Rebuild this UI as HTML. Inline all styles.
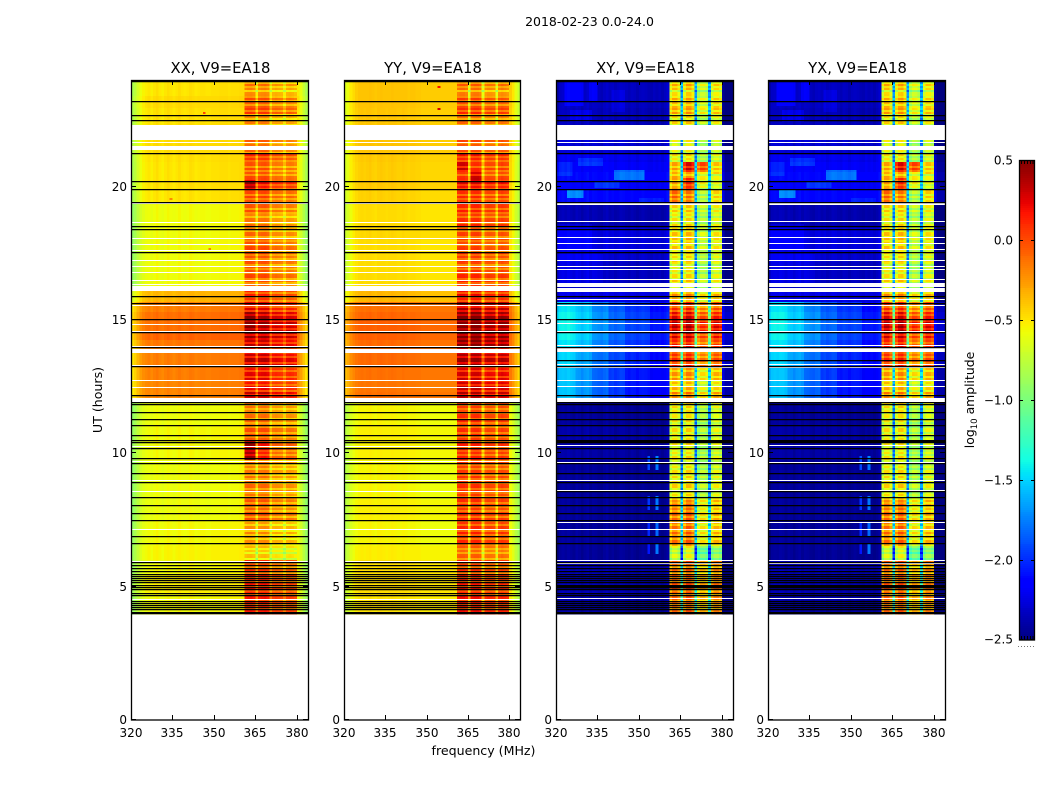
<!DOCTYPE html>
<html>
<head>
<meta charset="utf-8">
<title>2018-02-23 0.0-24.0</title>
<style>
html,body{margin:0;padding:0;background:#fff;}
svg{display:block;font-family:"DejaVu Sans","Liberation Sans",sans-serif;}
</style>
</head>
<body>
<svg id="figure" xmlns="http://www.w3.org/2000/svg" width="1050" height="800" viewBox="0 0 1050 800">
  <rect x="0" y="0" width="1050" height="800" fill="#fff"/>
  <text x="589.5" y="26" font-size="12.5" text-anchor="middle" fill="#000">2018-02-23 0.0-24.0</text>
  <text x="0" y="0" transform="translate(102 400) rotate(-90)" font-size="12.6" text-anchor="middle" fill="#000">UT (hours)</text>
  <text x="483.5" y="755" font-size="12.6" text-anchor="middle" fill="#000">frequency (MHz)</text>
  <text x="0" y="0" transform="translate(974 400) rotate(-90)" font-size="12.4" text-anchor="middle" fill="#000">log<tspan font-size="8.6" dy="3">10</tspan><tspan dy="-3"> amplitude</tspan></text>
</svg>
<script>
// ---------- chart data ----------
const panelTitles = ['XX, V9=EA18', 'YY, V9=EA18', 'XY, V9=EA18', 'YX, V9=EA18'];
const xTickValues = [320, 335, 350, 365, 380];
const yTickValues = [0, 5, 10, 15, 20];
const colorbarTicks = [0.5, 0.0, -0.5, -1.0, -1.5, -2.0, -2.5];
const colorbarLabels = ['0.5', '0.0', '\u22120.5', '\u22121.0', '\u22121.5', '\u22122.0', '\u22122.5'];

// Time band edges in UT hours (descending)
const bandEdges = [24, 23.625, 23.4, 22.95, 22.725, 22.31, 21.75, 21.26, 20.93, 20.55, 20.25, 19.84, 19.39, 18.94, 18.56, 18.0, 17.55, 17.18, 16.88, 16.5, 16.13, 15.64, 15.3, 15.0, 14.55, 14.25, 13.95, 13.76, 13.31, 12.75, 12.3, 12.0, 11.55, 11.06, 10.5, 9.75, 9.0, 8.25, 7.5, 6.56, 6.0, 5.44, 4.69, 4.0];

// log10 amplitude level per band: off-RFI channels ("Low") and RFI block channels ("High")
const levelLowXX = [-.53, -.53, -.5, -.52, -.52, -.5, -.5, -.52, -.53, -.53, -.52, -.53, -.61, -.61, -.61, -.61, -.61, -.61, -.61, -.61, -.38, -.2, -.15, -.15, -.12, -.18, -.2, -.2, -.2, -.22, -.22, -.62, -.62, -.6, -.6, -.62, -.62, -.62, -.6, -.58, -.6, -.56, -.6];
const levelHighXX = [-.24, -.32, -.14, -.07, -.27, -.22, -.2, 0, -.14, -.1, .1, -.1, -.15, -.25, -.2, -.1, -.1, -.15, -.1, -.15, .0, .12, .3, .35, .3, .25, .25, .25, .12, .1, .2, -.25, -.22, -.12, -.05, -.25, -.2, -.15, -.32, -.48, -.05, .05, .05];
const levelLowYY = [-.42, -.42, -.42, -.43, -.43, -.42, -.42, -.44, -.45, -.45, -.44, -.46, -.5, -.5, -.48, -.5, -.5, -.5, -.5, -.5, -.38, -.15, -.12, -.1, -.1, -.13, -.13, -.13, -.15, -.17, -.15, -.58, -.58, -.56, -.56, -.58, -.58, -.56, -.58, -.55, -.5, -.5, -.52];
const levelHighYY = [-.2, -.3, -.12, -.05, -.22, -.15, -.15, .02, -.05, -.05, .1, -.05, -.02, -.05, -.1, -.1, -.05, -.12, -.02, -.03, .05, .25, .38, .42, .38, .4, .3, .3, .15, .2, .22, -.1, -.05, -.05, 0, -.08, -.05, -.05, -.02, -.2, -.05, .02, .05];
const levelLowCross = [-2.34, -2.34, -2.34, -2.36, -2.36, -2.3, -2.3, -2.22, -2.18, -2.13, -2.18, -2.13, -2.38, -2.38, -2.26, -2.26, -2.3, -2.34, -2.34, -2.34, -2.25, -2.1, -2.05, -2.05, -2.05, -2.1, -2.1, -2.1, -2.15, -2.15, -2.15, -2.45, -2.45, -2.42, -2.42, -2.45, -2.45, -2.45, -2.45, -2.45, -2.38, -2.38, -2.42];
const levelHighCross = [-.45, -.6, -.45, -.4, -.55, -.7, -.7, -.6, -.4, -.4, -.4, -.45, -.55, -.6, -.5, -.5, -.55, -.65, -.6, -.55, -.35, -.05, .15, .3, .15, .05, 0, 0, -.35, -.45, -.3, -.6, -.65, -.6, -.6, -.6, -.55, -.35, -.35, -.85, -.2, -.15, -.2];

// Per-channel (320..383 MHz) spectral shape relative to the band level
const spectrumXX = [-.3, -.24, -.15, -.07, -.02, .01, .03, .0, .03, .05, .02, 0, .03, .05, .03, .01, .03, .05, .03, .02, .03, .05, .04, .02, .03, .04, .04, .03, .03, .04, .04, .04, .05, .05, .05, .04, .05, .05, .05, .06, .06, 0, .02, .03, 0, -.3, 0, .02, .03, 0, -.3, -.12, -.1, -.12, -.14, -.3, -.12, -.1, -.12, -.16, .02, -.08, -.2, -.3];
const spectrumYY = [-.22, -.17, -.09, -.04, 0, .02, .03, .02, .03, .04, .02, .01, .03, .04, .03, .02, .03, .04, .03, .02, .02, .03, .02, .01, .02, .02, .01, .01, .0, .0, .0, .0, .0, .0, .0, .0, .0, .0, .0, .0, .0, .02, .05, .05, .02, -.4, .03, .05, .05, .02, -.4, -.06, -.03, -.04, -.06, -.4, -.03, 0, -.03, -.06, .0, -.08, -.2, -.3];
const spectrumXY = [-.05, .02, .04, .02, .05, .02, .0, .04, .02, -.02, .02, .05, 0, .03, .02, 0, -.02, .02, .04, 0, .02, -.02, 0, .03, .02, 0, -.02, .02, 0, -.03, 0, .02, 0, -.02, -.03, 0, -.02, 0, -.03, 0, .05, -.15, .05, .05, -.1, -1.15, -.1, .1, .1, -.05, -1.15, -.35, -.2, -.2, -.3, -1.15, -.2, -.05, -.05, -.15, -.1, -.25, -.25, -.25];
const spectrumYX = [-.05, .02, .03, .02, .04, .03, 0, .03, .02, -.02, .02, .04, 0, .03, .02, 0, -.02, .02, .03, 0, .02, -.02, 0, .03, .02, 0, -.02, .02, 0, -.03, 0, .02, 0, -.02, -.03, 0, -.02, 0, -.03, 0, .05, -.17, .05, .05, -.12, -1.15, -.1, .08, .1, -.05, -1.15, -.33, -.18, -.2, -.3, -1.15, -.2, -.04, -.05, -.15, -.1, -.25, -.25, -.25];

// Horizontal fine banding seen inside the RFI blocks
const rowRipple = [.11, -.12, .13, -.09, .06, -.14, .1];

// Localised features: [ut top, ut bottom, first channel, last channel, delta]
const patchesXX = [[10.5, 9.75, 41, 44, .38], [10.5, 9.75, 46, 49, .12], [20.25, 19.84, 41, 44, .22], [15.3, 14.55, 41, 44, .08], [22.8, 22.72, 26, 26, .5], [19.55, 19.47, 14, 14, .3], [17.7, 17.62, 28, 28, .4]];
const patchesYY = [[20.6, 20.2, 46, 49, .22], [20.9, 20.55, 41, 44, .2], [15.3, 13.9, 46, 49, .05], [23.75, 23.67, 34, 34, .6], [22.95, 22.87, 34, 34, .7]];
const patchesCross = [
  [15.64, 13.95, 0, 6, .62], [15.64, 13.95, 7, 12, .52], [15.64, 13.95, 13, 18, .35], [15.64, 13.95, 19, 24, .22], [15.64, 13.95, 25, 33, .12],
  [13.95, 12.0, 0, 6, .58], [13.95, 12.0, 7, 12, .45], [13.95, 12.0, 13, 18, .3], [13.95, 12.0, 19, 24, .18], [13.95, 12.0, 25, 33, .08],
  [23.9, 23.0, 3, 9, .18], [23.9, 23.2, 12, 14, .14], [22.9, 22.4, 5, 12, .12], [23.6, 22.8, 20, 24, .08],
  [20.6, 20.25, 21, 31, .35], [21.1, 20.8, 8, 16, .2], [19.85, 19.57, 4, 9, .4], [20.2, 19.95, 14, 22, .2], [20.9, 20.4, 0, 5, .12], [19.6, 19.4, 30, 38, .1],
  [18.6, 17.6, 0, 12, .1], [17.5, 16.3, 0, 16, .08],
  [20.95, 20.55, 46, 49, .5], [20.95, 20.55, 51, 54, .55], [20.3, 19.9, 46, 49, .35], [19.95, 19.45, 41, 44, .25], [19.95, 19.45, 46, 49, .15], [19.95, 19.45, 51, 54, -.15], [20.5, 19.9, 56, 59, -.2],
  [9.9, 9.4, 33, 33, .55], [8.4, 7.9, 33, 33, .5], [7.4, 6.9, 33, 33, .45], [6.6, 6.2, 33, 33, .4],
  [9.9, 9.4, 36, 36, .7], [8.4, 7.9, 36, 36, .7], [7.4, 6.9, 36, 36, .65], [6.6, 6.2, 36, 36, .7],
  [8.2, 6.0, 41, 44, .12], [8.2, 6.0, 46, 49, .14]
];

// Black lines, in UT hours
const blackRows = [23.94, 23.19, 22.66, 22.49, 21.25, 20.2, 19.9, 19.4, 18.5, 18.4, 17.54, 15.87, 15.63, 15.01, 14.54, 13.96, 13.25, 12.16, 11.91, 11.84, 11.52, 11.28, 11.05, 10.68, 10.47, 10.41, 10.19, 9.8, 9.63, 9.25, 8.91, 8.34, 8.05, 7.75, 7.47, 6.87, 6.63, 5.9, 5.79, 5.67, 5.56, 5.45, 5.37, 5.3, 5.22, 5.15, 5.04, 4.96, 4.89, 4.74, 4.66, 4.44, 4.36, 4.29, 4.21, 4.14, 4.03, 4.0];
const blackRowsCrossExtra = [5.0, 4.98, 8.57, 10.44, 13.46];

// White (flagged) rows, in UT hours
const whiteRowsAuto = [21.66, 19.37, 18.69, 18.09, 17.86, 17.64, 17.24, 17.01, 16.79, 16.49, 16.35, 15.55, 14.85, 14.6, 14.04, 13.31, 12.74, 12.5, 10.29, 9.71, 8.99, 8.6, 7.15, 5.97, 4.55];
const whiteRowsCross = [21.66, 19.35, 18.7, 18.1, 17.87, 17.65, 17.24, 17.01, 16.9, 16.53, 15.78, 15.55, 14.88, 14.6, 14.05, 13.34, 13.23, 12.74, 12.51, 10.3, 9.66, 8.99, 8.61, 7.41, 7.15, 5.99, 5.87, 4.56, 4.37];
// Thick flagged blocks: [ut top, ut bottom]
const whiteBlocksAuto = [[22.31, 21.75], [21.52, 21.38], [16.28, 16.09], [13.9, 13.76], [12.09, 11.94]];
const whiteBlocksCross = [[22.31, 21.75], [21.52, 21.38], [16.39, 16.24], [16.2, 16.05], [19.42, 19.3], [13.95, 13.8], [12.08, 11.93]];

// ---------- drawing ----------
const NS = 'http://www.w3.org/2000/svg';
const svg = document.getElementById('figure');
const panelLefts = [131, 344, 556, 768];
const panelWidths = [177, 176, 177, 177];
const plotTop = 80, plotBottom = 720;
const UT_MAX = 24, FREQ_MIN = 320, FREQ_SPAN = 64;
const VMIN = -2.5, VMAX = 0.5;
const ROW_UT = 0.075;
const HIGH_FIRST = 41, HIGH_LAST = 59;

function yScale(ut) { return plotBottom - (ut / UT_MAX) * (plotBottom - plotTop); }
function xScale(panel, freq) { return panelLefts[panel] + ((freq - FREQ_MIN) / FREQ_SPAN) * panelWidths[panel]; }

function interp(stops, t) {
  for (let i = 1; i < stops.length; i++) {
    if (t <= stops[i][0]) {
      const a = stops[i - 1], b = stops[i];
      return a[1] + (b[1] - a[1]) * (t - a[0]) / (b[0] - a[0]);
    }
  }
  return stops[stops.length - 1][1];
}
const jetR = [[0, 0], [.35, 0], [.66, 1], [.89, 1], [1, .5]];
const jetG = [[0, 0], [.125, 0], [.375, 1], [.64, 1], [.91, 0], [1, 0]];
const jetB = [[0, .5], [.11, 1], [.34, 1], [.65, 0], [1, 0]];
function colorOf(v) {
  const t = Math.max(0, Math.min(1, (v - VMIN) / (VMAX - VMIN)));
  const q = Math.round(t * 255) / 255;
  return 'rgb(' + Math.round(interp(jetR, q) * 255) + ',' + Math.round(interp(jetG, q) * 255) + ',' + Math.round(interp(jetB, q) * 255) + ')';
}

function make(tag, attrs) {
  const el = document.createElementNS(NS, tag);
  for (const k in attrs) el.setAttribute(k, attrs[k]);
  return el;
}
function bandIndex(ut) {
  for (let i = 0; i < bandEdges.length - 1; i++) {
    if (ut <= bandEdges[i] && ut > bandEdges[i + 1]) return i;
  }
  return -1;
}

const panelConfigs = [
  { name: 'xx', low: levelLowXX, high: levelHighXX, spectrum: spectrumXX, patches: patchesXX, whites: whiteRowsAuto, blocks: whiteBlocksAuto, blacks: blackRows },
  { name: 'yy', low: levelLowYY, high: levelHighYY, spectrum: spectrumYY, patches: patchesYY, whites: whiteRowsAuto, blocks: whiteBlocksAuto, blacks: blackRows },
  { name: 'xy', low: levelLowCross, high: levelHighCross, spectrum: spectrumXY, patches: patchesCross, whites: whiteRowsCross, blocks: whiteBlocksCross, blacks: blackRows.concat(blackRowsCrossExtra) },
  { name: 'yx', low: levelLowCross, high: levelHighCross, spectrum: spectrumYX, patches: patchesCross, whites: whiteRowsCross, blocks: whiteBlocksCross, blacks: blackRows.concat(blackRowsCrossExtra) }
];

function cellValue(cfg, row, ch) {
  const utMid = UT_MAX - (row + 0.5) * ROW_UT;
  const band = bandIndex(utMid);
  if (band < 0) return null;
  const isHigh = ch >= HIGH_FIRST && ch <= HIGH_LAST;
  let v = (isHigh ? cfg.high[band] : cfg.low[band]) + cfg.spectrum[ch];
  if (isHigh) v += rowRipple[row % rowRipple.length];
  for (const p of cfg.patches) {
    if (utMid <= p[0] && utMid >= p[1] && ch >= p[2] && ch <= p[3]) v += p[4];
  }
  return v;
}

panelConfigs.forEach(function (cfg, panel) {
  const g = make('g', {});
  
  
  const frag = document.createDocumentFragment();
  const left = panelLefts[panel], width = panelWidths[panel];
  const rowCount = Math.round((UT_MAX - 4) / ROW_UT);

  // heatmap cells, merged vertically when neighbouring rows share a colour
  for (let ch = 0; ch < FREQ_SPAN; ch++) {
    const x0 = xScale(panel, FREQ_MIN + ch), x1 = xScale(panel, FREQ_MIN + ch + 1);
    let start = 0, current = null;
    for (let row = 0; row <= rowCount; row++) {
      const val = row < rowCount ? cellValue(cfg, row, ch) : null;
      const col = val === null ? null : colorOf(val);
      if (col !== current) {
        if (current !== null) {
          const y0 = yScale(UT_MAX - start * ROW_UT), y1 = yScale(UT_MAX - row * ROW_UT);
          const cell = make('rect', { x: x0.toFixed(2), y: y0.toFixed(2), width: (x1 - x0 + 0.4).toFixed(2), height: (y1 - y0 + 0.4).toFixed(2), fill: current, 'shape-rendering': 'crispEdges' });
          
          
          frag.appendChild(cell);
        }
        current = col;
        start = row;
      }
    }
  }

  // flagged white blocks and rows
  cfg.blocks.forEach(function (b) {
    const y0 = Math.round(yScale(b[0])), y1 = Math.round(yScale(b[1]));
    const block = make('rect', { x: left + 1, y: y0, width: width, height: y1 - y0, fill: '#fff' });
    
    
    frag.appendChild(block);
  });
  cfg.whites.forEach(function (ut) {
    const line = make('rect', { x: left + 1, y: Math.round(yScale(ut)), width: width, height: 1, fill: '#fff' });
    
    
    frag.appendChild(line);
  });
  // black lines
  cfg.blacks.forEach(function (ut) {
    const line = make('rect', { x: left, y: Math.round(yScale(ut) - 0.7), width: width + 1, height: 1.25, fill: '#000' });
    
    
    frag.appendChild(line);
  });

  // frame
  const frame = make('rect', { x: left + 0.5, y: plotTop + 0.5, width: width, height: plotBottom - plotTop - 0.5, fill: 'none', stroke: '#000', 'stroke-width': 1.3 });
  
  
  frag.appendChild(frame);

  // x ticks and labels
  xTickValues.forEach(function (f) {
    const x = Math.round(xScale(panel, f)) + 0.5;
    const bottom = make('line', { x1: x, x2: x, y1: plotBottom, y2: plotBottom - 5, stroke: '#000', 'stroke-width': 1 });
    
    
    frag.appendChild(bottom);
    const top = make('line', { x1: x, x2: x, y1: plotTop, y2: plotTop + 5, stroke: '#000', 'stroke-width': 1 });
    
    
    frag.appendChild(top);
    const label = make('text', { x: x - 0.5, y: 737, 'font-size': 12, 'text-anchor': 'middle', fill: '#000' });
    
    
    label.textContent = String(f);
    frag.appendChild(label);
  });
  // y ticks and labels
  yTickValues.forEach(function (ut) {
    const y = Math.round(yScale(ut)) - 0.5;
    const l = make('line', { x1: left, x2: left + 5, y1: y, y2: y, stroke: '#000', 'stroke-width': 1 });
    
    
    frag.appendChild(l);
    const r = make('line', { x1: left + width, x2: left + width - 5, y1: y, y2: y, stroke: '#000', 'stroke-width': 1 });
    
    
    frag.appendChild(r);
    const label = make('text', { x: left - 4, y: y + 4.5, 'font-size': 12, 'text-anchor': 'end', fill: '#000' });
    
    
    label.textContent = String(ut);
    frag.appendChild(label);
  });
  // title
  const title = make('text', { x: left + width / 2 + 1, y: 73, 'font-size': 14.8, 'text-anchor': 'middle', fill: '#000' });
  
  
  title.textContent = panelTitles[panel];
  frag.appendChild(title);

  g.appendChild(frag);
  svg.appendChild(g);
});

// ---------- colorbar ----------
(function () {
  const cbLeft = 1019, cbRight = 1035, cbTop = 160, cbBottom = 640;
  const cbY = function (v) { return cbBottom - (v - VMIN) / (VMAX - VMIN) * (cbBottom - cbTop); };
  const g = make('g', {});
  
  
  for (let py = cbTop; py < cbBottom; py += 2) {
    const v = VMAX - (py + 1 - cbTop) / (cbBottom - cbTop) * (VMAX - VMIN);
    const seg = make('rect', { x: cbLeft, y: py, width: cbRight - cbLeft, height: 2.3, fill: colorOf(v), 'shape-rendering': 'crispEdges' });
    
    
    g.appendChild(seg);
  }
  const frame = make('rect', { x: cbLeft + 0.5, y: cbTop + 0.5, width: cbRight - cbLeft - 1, height: cbBottom - cbTop - 0.5, fill: 'none', stroke: '#000', 'stroke-width': 1.3 });
  
  
  g.appendChild(frame);
  colorbarTicks.forEach(function (v, i) {
    const y = Math.min(cbBottom - 0.5, Math.round(cbY(v)) + 0.5);
    const a = make('line', { x1: cbLeft, x2: cbLeft + 4, y1: y, y2: y, stroke: '#000', 'stroke-width': 1 });
    
    
    g.appendChild(a);
    const b = make('line', { x1: cbRight, x2: cbRight - 4, y1: y, y2: y, stroke: '#000', 'stroke-width': 1 });
    
    
    g.appendChild(b);
    const label = make('text', { x: 1013, y: y + 4, 'font-size': 12, 'text-anchor': 'end', fill: '#000' });
    
    
    label.textContent = colorbarLabels[i];
    g.appendChild(label);
  });
  [1021.5, 1024.5, 1027.5, 1030.5, 1033].forEach(function (x) {
    const end = make('line', { x1: x, x2: x, y1: cbTop, y2: cbTop + 4, stroke: '#000', 'stroke-width': 1 });
    
    
    g.appendChild(end);
    const end2 = make('line', { x1: x, x2: x, y1: cbBottom, y2: cbBottom - 4, stroke: '#000', 'stroke-width': 1 });
    
    
    g.appendChild(end2);
  });
  [1018, 1021, 1024, 1027, 1030, 1033].forEach(function (x) {
    const dot = make('rect', { x: x, y: 646, width: 1, height: 1, fill: '#777' });
    
    
    g.appendChild(dot);
  });
  svg.appendChild(g);
})();
</script>
</body>
</html>
